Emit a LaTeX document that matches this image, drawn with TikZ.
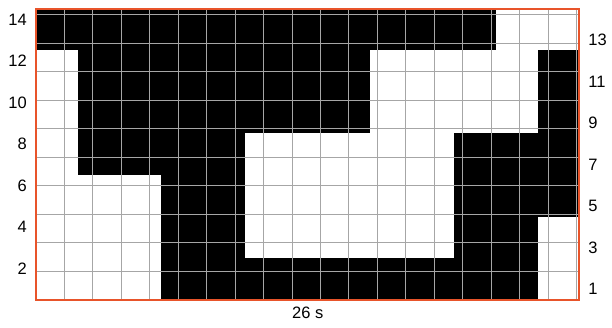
\documentclass[tikz,border=0pt]{standalone}
\usepackage{fontspec}
\setmainfont{Liberation Sans}
\definecolor{frameorange}{HTML}{E8542A}
\definecolor{gridgray}{HTML}{A6A6A6}
\tikzset{
  rowlabel/.style={font=\fontsize{16.5}{18}\selectfont, inner sep=0pt},
  cellfill/.style={fill=black}
}
\begin{document}
\begin{tikzpicture}[x=20.9pt, y=20.75pt]
    \useasboundingbox (-1.7225,-1.3253) rectangle (27.5598,14.4337);

    % Black cells
    \fill[cellfill] (0,12) rectangle (22,14);
    \fill[cellfill] (2,8) rectangle (16,12);
    \fill[cellfill] (24,8) rectangle (26,12);
    \fill[cellfill] (2,6) rectangle (10,8);
    \fill[cellfill] (20,4) rectangle (26,8);
    \fill[cellfill] (6,2) rectangle (10,6);
    \fill[cellfill] (20,2) rectangle (24,4);
    \fill[cellfill] (6,0) rectangle (24,2);

    % Grid lines
    \draw[gridgray, line width=1pt] (0,0) grid (26,14);

    % Frame
    \draw[frameorange, line width=2pt] (0,0) rectangle (26,14);

    % Row numbers
    \foreach \r in {2,4,...,14}
      \node[rowlabel, anchor=east] (left\r) at (-0.43,\r-0.5) {\r};
    \foreach \r in {1,3,...,13}
      \node[rowlabel, anchor=west] (right\r) at (26.42,\r-0.5) {\r};

    % Width
    \node[rowlabel, anchor=north] (width) at (13,-0.33) {26 s};
\end{tikzpicture}
\end{document}
